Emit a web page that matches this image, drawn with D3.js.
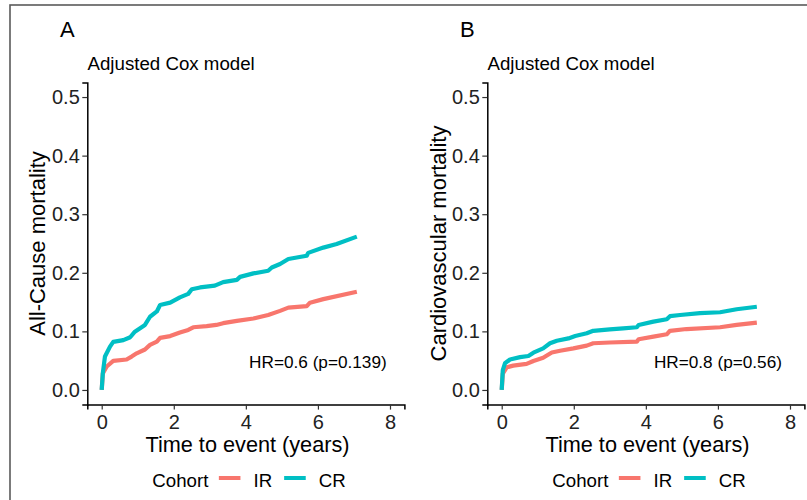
<!DOCTYPE html>
<html><head><meta charset="utf-8">
<script src="https://cdn.jsdelivr.net/npm/d3@7"></script>
<style>
body{margin:0;background:#fff;}
svg text{font-family:"Liberation Sans",Arial,sans-serif;}
</style></head>
<body><svg id="chart" width="807" height="500"></svg>
<script>
// ---- data ----
const panelLetters = ["A", "B"];
const subtitles = ["Adjusted Cox model", "Adjusted Cox model"];
const yTitles = ["All-Cause mortality", "Cardiovascular mortality"];
const xTitle = "Time to event (years)";
const hrLabels = ["HR=0.6 (p=0.139)", "HR=0.8 (p=0.56)"];
const xTicks = [0, 2, 4, 6, 8];
const yTicks = [0.0, 0.1, 0.2, 0.3, 0.4, 0.5];
const cohorts = ["IR", "CR"];
const cohortColors = ["#F8766D", "#00BFC4"];

// Panel A: all-cause mortality  [time, cumulative incidence]
const allCauseIR = [[0,0],[0.03,0.028],[0.14,0.040],[0.32,0.0495],[0.69,0.052],[0.83,0.057],[0.97,0.0625],[1.2,0.069],[1.34,0.077],[1.53,0.0825],[1.62,0.089],[1.9,0.092],[2.17,0.098],[2.4,0.1025],[2.54,0.107],[2.91,0.109],[3.18,0.111],[3.37,0.114],[3.75,0.118],[4.21,0.122],[4.62,0.128],[4.95,0.135],[5.18,0.1405],[5.69,0.143],[5.78,0.149],[6.15,0.155],[7.08,0.1677]];
const allCauseCR = [[0,0],[0.03,0.028],[0.09,0.057],[0.23,0.074],[0.32,0.082],[0.6,0.085],[0.79,0.090],[0.92,0.0995],[1.2,0.111],[1.34,0.125],[1.53,0.134],[1.62,0.145],[1.9,0.149],[2.17,0.158],[2.4,0.164],[2.5,0.172],[2.73,0.175],[3.14,0.178],[3.37,0.184],[3.75,0.188],[3.84,0.193],[4.21,0.199],[4.62,0.2035],[4.72,0.209],[4.95,0.215],[5.18,0.2235],[5.69,0.229],[5.73,0.234],[6.15,0.243],[6.52,0.249],[7.08,0.2617]];
// Panel B: cardiovascular mortality
const cardioIR = [[0,0],[0.03,0.028],[0.14,0.0387],[0.32,0.0415],[0.69,0.0444],[0.88,0.0495],[1.15,0.055],[1.39,0.064],[1.62,0.067],[1.99,0.071],[2.36,0.0757],[2.54,0.0797],[3.0,0.081],[3.75,0.0825],[3.8,0.0865],[4.21,0.091],[4.58,0.095],[4.67,0.101],[5.13,0.104],[6.06,0.107],[6.52,0.111],[7.08,0.1149]];
const cardioCR = [[0,0],[0.03,0.034],[0.09,0.0455],[0.23,0.052],[0.51,0.056],[0.74,0.058],[0.88,0.0637],[1.15,0.071],[1.34,0.0797],[1.53,0.084],[1.85,0.088],[2.04,0.092],[2.36,0.0967],[2.54,0.101],[3.0,0.1035],[3.37,0.105],[3.75,0.107],[3.8,0.111],[4.21,0.1166],[4.58,0.1206],[4.67,0.126],[4.95,0.128],[5.5,0.131],[6.06,0.1326],[6.52,0.1377],[7.08,0.142]];
const panelSeries = [[allCauseIR, allCauseCR], [cardioIR, cardioCR]];
const hrPos = [6, 0.038];

// ---- drawing ----
const svg = d3.select("#chart");
svg.append("rect").attr("x", 10).attr("y", 5).attr("width", 820).attr("height", 520)
  .attr("fill", "none").attr("stroke", "#5a5a5a").attr("stroke-width", 1.6);

const plotW = [87.3, 404.4], plotH = [404.6, 82.4];
panelLetters.forEach((letter, p) => {
  const ox = p * 400;
  const g = svg.append("g").attr("transform", `translate(${ox},0)`);
  const x = d3.scaleLinear().domain([-0.4, 8.4]).range(plotW);
  const y = d3.scaleLinear().domain([-0.025, 0.525]).range(plotH);

  g.append("text").attr("x", 60).attr("y", 37).attr("font-size", 22).attr("fill", "#000").text(letter);
  g.append("text").attr("x", 87.5).attr("y", 70).attr("font-size", 18.7).attr("fill", "#000").text(subtitles[p]);

  const line = d3.line().x(d => x(d[0])).y(d => y(d[1]));
  panelSeries[p].forEach((s, i) => {
    g.append("path").attr("d", line(s)).attr("fill", "none")
      .attr("stroke", cohortColors[i]).attr("stroke-width", 4.2)
      .attr("stroke-linejoin", "round").attr("stroke-linecap", "butt");
  });

  const xa = g.append("g").attr("transform", `translate(0,${plotH[0]})`)
    .call(d3.axisBottom(x).tickValues(xTicks).tickFormat(d3.format("d")).tickSizeOuter(0).tickSize(5).tickPadding(5));
  const ya = g.append("g").attr("transform", `translate(${plotW[0]},0)`)
    .call(d3.axisLeft(y).tickValues(yTicks).tickFormat(d3.format(".1f")).tickSizeOuter(0).tickSize(5).tickPadding(2.5));
  [xa, ya].forEach(a => {
    a.select(".domain").attr("stroke", "#000").attr("stroke-width", 1.5);
    a.selectAll(".tick line").attr("stroke", "#333").attr("stroke-width", 1.2);
    a.selectAll(".tick text").attr("font-size", 20).attr("fill", "#222")
      .attr("font-family", "Liberation Sans, Arial, sans-serif");
  });

  g.append("text").attr("x", 247.5).attr("y", 451.5).attr("text-anchor", "middle")
    .attr("font-size", 21.7).attr("fill", "#000").text(xTitle);
  g.append("text").attr("transform", `translate(${p === 0 ? 44.5 : 445.5 - 400},243.5) rotate(-90)`)
    .attr("text-anchor", "middle").attr("font-size", 22).attr("fill", "#000").text(yTitles[p]);

  g.append("text").attr("x", x(hrPos[0])).attr("y", y(hrPos[1])).attr("text-anchor", "middle")
    .attr("font-size", 17.2).attr("fill", "#000").text(hrLabels[p]);

  // legend
  const lg = g.append("g");
  let cx = 0;
  const t0 = lg.append("text").attr("x", cx).attr("y", 486.5).attr("font-size", 18.7).attr("fill", "#000").text("Cohort");
  cx += t0.node().getComputedTextLength() + 10.5;
  cohorts.forEach((c, i) => {
    lg.append("line").attr("x1", cx).attr("x2", cx + 21.6).attr("y1", 478).attr("y2", 478)
      .attr("stroke", cohortColors[i]).attr("stroke-width", 4);
    cx += 21.6 + 13;
    const t = lg.append("text").attr("x", cx).attr("y", 486.5).attr("font-size", 18.7).attr("fill", "#000").text(c);
    cx += t.node().getComputedTextLength() + 12;
  });
  const total = cx - 12;
  lg.attr("transform", `translate(${249 - total / 2},0)`);
});
</script></body></html>
